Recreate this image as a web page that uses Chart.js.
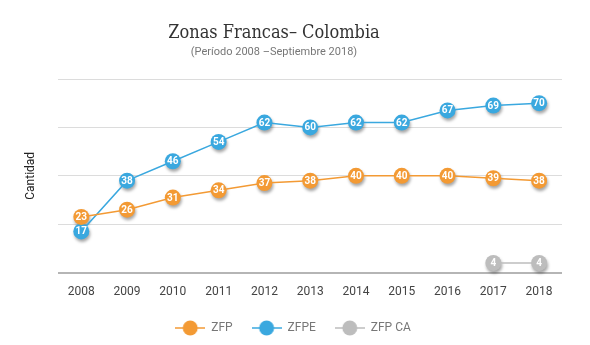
<!DOCTYPE html>
<html>
<head>
<meta charset="utf-8">
<script src="https://cdn.jsdelivr.net/npm/chart.js@4"></script>
<style>
  html, body { margin: 0; padding: 0; background: #fff; }
  #wrap { width: 590px; height: 345px; }
</style>
</head>
<body>
<div id="wrap"><canvas id="chart"></canvas></div>
<script>
const years = ['2008', '2009', '2010', '2011', '2012', '2013', '2014', '2015', '2016', '2017', '2018'];
const zfp = [23, 26, 31, 34, 37, 38, 40, 40, 40, 39, 38];
const zfpe = [17, 38, 46, 54, 62, 60, 62, 62, 67, 69, 70];
const zfpCa = [null, null, null, null, null, null, null, null, null, 4, 4];
const yTicks = [0, 20, 40, 60, 80];

const titleText = 'Zonas Francas– Colombia';
const subtitleText = '(Período 2008 –Septiembre 2018)';

const ORANGE = '#F39A34';
const BLUE = '#3AA8DF';
const GREY = '#BDBDBD';

// legend marker: short line with a dot on it
function legendMarker(color) {
  const c = document.createElement('canvas');
  c.width = 30; c.height = 18;
  const g = c.getContext('2d');
  g.strokeStyle = color;
  g.lineWidth = 1.5;
  g.beginPath(); g.moveTo(0, 9); g.lineTo(30, 9); g.stroke();
  g.fillStyle = color;
  g.beginPath(); g.arc(15, 9, 7.5, 0, Math.PI * 2); g.fill();
  return c;
}

// title block sits a bit left of centre in the original
const headings = {
  id: 'headings',
  afterDraw(chart) {
    const ctx = chart.ctx;
    const cx = 274;
    ctx.save();
    ctx.textAlign = 'center';
    ctx.textBaseline = 'alphabetic';
    ctx.fillStyle = '#333';
    ctx.font = '18px "DejaVu Serif Condensed", "DejaVu Serif", serif';
    ctx.fillText(titleText, cx, 38);
    ctx.fillStyle = '#777';
    ctx.font = '11px Roboto';
    ctx.fillText(subtitleText, cx, 55);
    ctx.restore();
  }
};

const pointShadows = {
  id: 'pointShadows',
  beforeDatasetsDraw(chart) {
    const ctx = chart.ctx;
    ctx.save();
    ctx.fillStyle = 'rgba(0,0,0,0.35)';
    ctx.filter = 'blur(1.5px)';
    chart.data.datasets.forEach((ds, i) => {
      chart.getDatasetMeta(i).data.forEach((el, j) => {
        if (ds.data[j] == null) return;
        ctx.beginPath();
        ctx.arc(el.x + 1, el.y + 2.5, 8, 0, Math.PI * 2);
        ctx.fill();
      });
    });
    ctx.restore();
  }
};

const valueLabels = {
  id: 'valueLabels',
  afterDatasetsDraw(chart) {
    const ctx = chart.ctx;
    ctx.save();
    ctx.font = 'bold 10px Roboto';
    ctx.fillStyle = '#fff';
    ctx.textAlign = 'center';
    ctx.textBaseline = 'middle';
    chart.data.datasets.forEach((ds, i) => {
      chart.getDatasetMeta(i).data.forEach((el, j) => {
        if (ds.data[j] == null) return;
        ctx.fillText(ds.data[j], el.x, el.y + 0.5);
      });
    });
    ctx.restore();
  }
};

function series(label, data, color) {
  return {
    label: label,
    data: data,
    borderColor: color,
    backgroundColor: color,
    borderWidth: 1.5,
    pointRadius: 8,
    pointHoverRadius: 8,
    pointBorderWidth: 0,
    pointBackgroundColor: color,
    pointStyle: 'circle',
    tension: 0
  };
}

new Chart(document.getElementById('chart'), {
  type: 'line',
  data: {
    labels: years,
    datasets: [
      series('ZFP', zfp, ORANGE),
      series('ZFPE', zfpe, BLUE),
      series('ZFP CA', zfpCa, GREY)
    ]
  },
  options: {
    responsive: true,
    maintainAspectRatio: false,
    animation: false,
    layout: { padding: { left: 24, right: 28, top: 79, bottom: 1 } },
    plugins: {
      title: { display: false },
      legend: {
        position: 'bottom',
        labels: {
          usePointStyle: true,
          pointStyleWidth: 30,
          color: '#777',
          font: { family: 'Roboto', size: 12 },
          padding: 19,
          generateLabels(chart) {
            return chart.data.datasets.map((ds, i) => ({
              text: ds.label,
              fontColor: '#777',
              pointStyle: legendMarker(ds.borderColor),
              fillStyle: ds.borderColor,
              strokeStyle: ds.borderColor,
              lineWidth: 0,
              hidden: false,
              datasetIndex: i
            }));
          }
        }
      },
      tooltip: { enabled: false }
    },
    scales: {
      x: {
        offset: true,
        grid: { display: false },
        border: { display: false },
        ticks: { color: '#444', font: { family: 'Roboto', size: 12 }, padding: 4 }
      },
      y: {
        min: yTicks[0],
        max: yTicks[yTicks.length - 1],
        afterBuildTicks(axis) { axis.ticks = yTicks.map(v => ({ value: v })); },
        border: { display: false },
        grid: {
          drawTicks: false,
          color: ctx => ctx.tick.value === 0 ? '#b5b5b5' : '#dcdcdc',
          lineWidth: ctx => ctx.tick.value === 0 ? 2 : 1
        },
        ticks: { display: false },
        title: {
          display: true,
          text: 'Cantidad',
          color: '#222',
          font: { family: 'Roboto', size: 12 },
          padding: { top: 0, bottom: 20 }
        }
      }
    }
  },
  plugins: [pointShadows, valueLabels, headings]
});
</script>
</body>
</html>
